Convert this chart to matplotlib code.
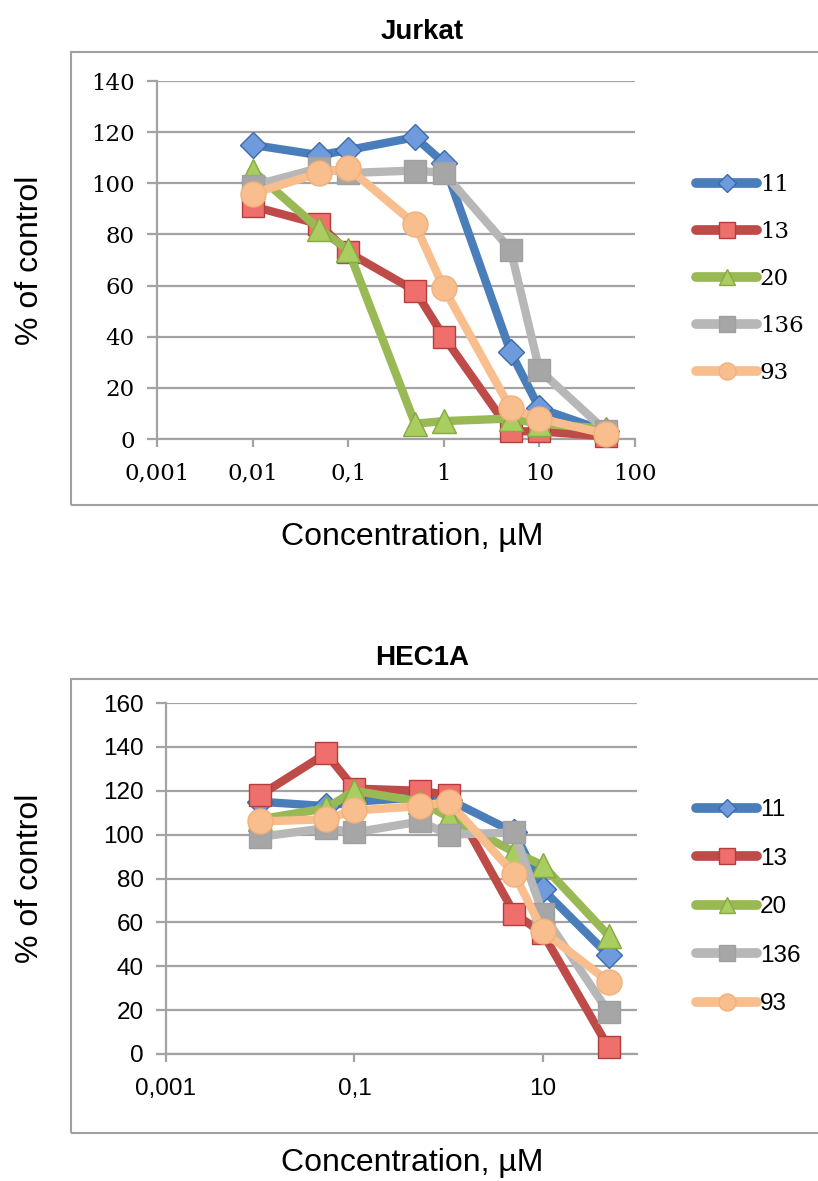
import matplotlib
matplotlib.use('Agg')
import matplotlib.pyplot as plt
from matplotlib.patches import Rectangle
from matplotlib.ticker import FixedLocator, NullLocator

conc = [0.01, 0.05, 0.1, 0.5, 1, 5, 10, 50]
series_names = ['11', '13', '20', '136', '93']

jurkat_11 = [115, 111, 113, 118, 108, 34, 12, 3]
jurkat_13 = [91, 84, 73, 58, 40, 3, 3, 1]
jurkat_20 = [105, 82, 74, 6, 7, 8, 6, 4]
jurkat_136 = [99, 106, 104, 105, 104, 74, 27, 3]
jurkat_93 = [96, 104, 106, 84, 59, 12, 8, 2]

hec_11 = [115, 113, 115, 117, 116, 101, 75, 45]
hec_13 = [118, 137, 121, 120, 118, 64, 55, 3]
hec_20 = [107, 112, 120, 115, 108, 92, 86, 54]
hec_136 = [99, 103, 101, 106, 100, 101, 64, 19]
hec_93 = [106, 107, 111, 113, 115, 82, 56, 33]

jurkat_xticks = [0.001, 0.01, 0.1, 1, 10, 100]
jurkat_xlabels = ['0,001', '0,01', '0,1', '1', '10', '100']
jurkat_yticks = [0, 20, 40, 60, 80, 100, 120, 140]
hec_xticks = [0.001, 0.1, 10]
hec_xlabels = ['0,001', '0,1', '10']
hec_yticks = [0, 20, 40, 60, 80, 100, 120, 140, 160]

# line colour, marker, marker fill, marker edge, marker size
styles = [
    ('#4A7EBB', 'D', '#6F9BDC', '#3C6BAA', 13),
    ('#BE4B48', 's', '#EE6F6C', '#B33E3B', 16),
    ('#98B954', '^', '#A9CD5F', '#87A844', 17),
    ('#B7B7B7', 's', '#A6A6A6', '#A0A0A0', 16),
    ('#F9BE8D', 'o', '#F9BE8D', '#F1B07C', 18),
]

GRID = '#A3A3A3'

fig = plt.figure(figsize=(8.18, 11.81), dpi=100)
W, H = 818, 1181


def frac(x0, y0, x1, y1):
    # pixel box (top-left origin) -> figure fraction rect
    return [x0 / W, 1 - y1 / H, (x1 - x0) / W, (y1 - y0) / H]


def draw_panel(rect, box, data, ymax, xticks, xlabels, yticks, tick_font,
               tick_size, title, title_y, xlabel_y, legend_top, leg_space):
    fig.add_artist(Rectangle((box[0] / W, 1 - box[3] / H),
                             (box[2] - box[0]) / W, (box[3] - box[1]) / H,
                             transform=fig.transFigure, fill=False,
                             edgecolor='#A0A0A0', linewidth=1.5))
    ax = fig.add_axes(frac(*rect))
    ax.set_xscale('log')
    ax.set_xlim(0.001, 100)
    ax.set_ylim(0, ymax)

    handles = []
    for i, (vals, name) in enumerate(zip(data, series_names)):
        lc, mk, mf, me, ms = styles[i]
        ln, = ax.plot(conc, vals, color=lc, linewidth=6, marker=mk,
                      markersize=ms, markerfacecolor=mf, markeredgecolor=me,
                      markeredgewidth=1, label=name, zorder=3 + i,
                      solid_joinstyle='round', clip_on=False)
        handles.append(ln)

    ax.xaxis.set_major_locator(FixedLocator(xticks))
    ax.xaxis.set_minor_locator(NullLocator())
    ax.set_xticklabels(xlabels)
    ax.set_yticks(yticks)
    ax.set_yticklabels([str(v) for v in yticks])
    ax.yaxis.grid(True, color=GRID, linewidth=1.6)
    ax.set_axisbelow(True)
    for s in ['top', 'right']:
        ax.spines[s].set_visible(False)
    for s in ['left', 'bottom']:
        ax.spines[s].set_color(GRID)
        ax.spines[s].set_linewidth(1.6)
    ax.tick_params(axis='y', length=7, width=1.6, color=GRID, pad=9)
    ax.tick_params(axis='x', length=6, width=1.6, color=GRID, pad=11)
    for lab in ax.get_xticklabels() + ax.get_yticklabels():
        lab.set_fontfamily(tick_font)
        lab.set_fontsize(tick_size)

    fig.text(422 / W, 1 - title_y / H, title, ha='center', va='center',
             fontsize=20, fontweight='bold', family='Liberation Sans')
    ycen = 1 - (rect[1] + rect[3]) / 2 / H
    fig.text(30 / W, ycen, '% of control', rotation=90, ha='center',
             va='center', fontsize=23, family='Liberation Sans')
    fig.text(412 / W, 1 - xlabel_y / H, 'Concentration, µM', ha='center',
             va='center', fontsize=23, family='Liberation Sans')

    leg = fig.legend(handles=handles, loc='upper left',
                     bbox_to_anchor=(696 / W, 1 - legend_top / H),
                     frameon=False, borderpad=0, borderaxespad=0,
                     handlelength=44 / tick_size, handletextpad=0.12,
                     labelspacing=leg_space,
                     prop={'family': tick_font, 'size': tick_size})
    for h, st in zip(leg.legend_handles, styles):
        h.set_markersize(st[4] * 0.68)
        h.set_linewidth(7)
        h.set_solid_capstyle('round')
    return ax


draw_panel((157, 81, 635, 439), (71, 52, 830, 505),
           [jurkat_11, jurkat_13, jurkat_20, jurkat_136, jurkat_93], 140,
           jurkat_xticks, jurkat_xlabels, jurkat_yticks, 'DejaVu Serif', 16.5,
           'Jurkat', 32, 537, 174, 1.09)

draw_panel((166, 703, 637, 1054), (71, 679, 830, 1133),
           [hec_11, hec_13, hec_20, hec_136, hec_93], 160,
           hec_xticks, hec_xlabels, hec_yticks, 'Liberation Sans', 17.5,
           'HEC1A', 658, 1163, 799, 1.09)

fig.savefig('out.png', dpi=100)
